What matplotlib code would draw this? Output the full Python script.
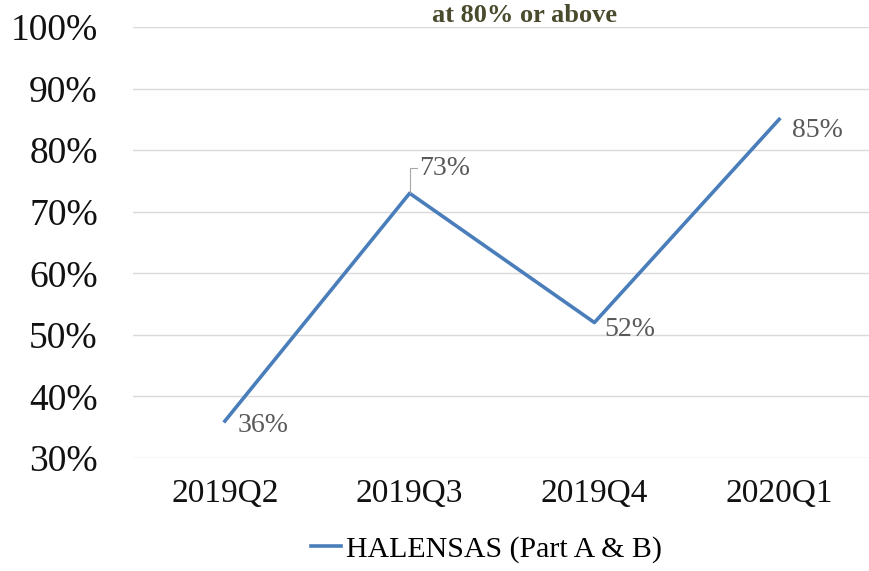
import numpy as np
import matplotlib.pyplot as plt

# data
quarters = ["2019Q2", "2019Q3", "2019Q4", "2020Q1"]
values = [0.36, 0.73, 0.52, 0.85]
value_labels = ["36%", "73%", "52%", "85%"]
series_name = "HALENSAS (Part A & B)"
title_text = "at 80% or above"
yticks = [0.3, 0.4, 0.5, 0.6, 0.7, 0.8, 0.9, 1.0]

plt.rcParams['font.family'] = ['Liberation Serif', 'DejaVu Serif']

fig = plt.figure(figsize=(8.69, 5.71), dpi=100)
ax = fig.add_axes([0.1525, 0.1979, 0.8504, 0.7548])

x = np.arange(len(quarters))
line, = ax.plot(x, values, color="#4a7ebb", linewidth=2.6, label=series_name)

ax.set_xlim(-0.5, 3.5)
ax.set_ylim(0.3, 1.0)
ax.set_yticks(yticks)
ax.set_yticklabels([f"{int(round(v * 100))}%" for v in yticks], fontsize=27)
ax.set_xticks(x)
ax.set_xticklabels(quarters, fontsize=24)
ax.tick_params(axis='y', length=0, pad=25, colors="#111111")
ax.tick_params(axis='x', length=0, pad=15, colors="#111111")
ax.grid(axis='y', color="#d9d9d9", linewidth=1.0)
ax.set_axisbelow(True)
for s in ax.spines.values():
    s.set_visible(False)

# data labels (offsets in points)
offsets = [(9, -3), (7, 18), (7, -5), (9, -8)]
for i, (v, lab) in enumerate(zip(values, value_labels)):
    if i == 1:
        ax.annotate(lab, xy=(i, v), xytext=offsets[i], textcoords='offset points',
                    ha='left', va='center', fontsize=20, color="#595959",
                    arrowprops=dict(arrowstyle='-', color="#a6a6a6", lw=0.8,
                                    shrinkA=0, shrinkB=0,
                                    connectionstyle='angle,angleA=0,angleB=90,rad=0'))
    else:
        ax.annotate(lab, xy=(i, v), xytext=offsets[i], textcoords='offset points',
                    ha='left', va='center', fontsize=20, color="#595959")

fig.text(0.603, 0.972, title_text, ha='center', va='center', fontsize=19,
         color="#4a4a2c", fontweight='bold')

fig.legend(handles=[line], loc='center', bbox_to_anchor=(0.56, 0.0385),
           frameon=False, fontsize=21.5, handlelength=1.0, handletextpad=0.15)

fig.savefig("out.png", dpi=100, facecolor='white')
